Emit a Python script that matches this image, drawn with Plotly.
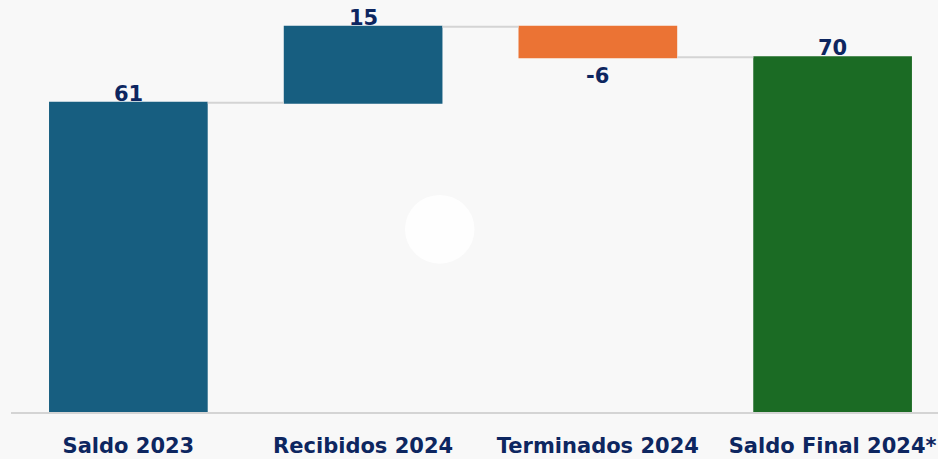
import plotly.graph_objects as go

# Data
categories = ["Saldo 2023", "Recibidos 2024", "Terminados 2024", "Saldo Final 2024*"]
values = [61, 15, -6, 70]
measures = ["relative", "relative", "relative", "total"]
labels = ["61", "15", "-6", "70"]

navy = "#0d2660"
font_family = "DejaVu Sans"

fig = go.Figure(
    go.Waterfall(
        x=categories,
        y=values,
        measure=measures,
        width=0.676,
        increasing=dict(marker=dict(color="#175e80")),
        decreasing=dict(marker=dict(color="#eb7334")),
        totals=dict(marker=dict(color="#1b6b24")),
        connector=dict(line=dict(color="#d4d4d4", width=2)),
        hoverinfo="skip",
    )
)

# value labels: above rising bars, below falling bars
running = 0
for cat, val, meas, lab in zip(categories, values, measures, labels):
    if meas == "total":
        top = running
        neg = False
    else:
        running += val
        top = running
        neg = val < 0
    fig.add_annotation(
        x=cat, y=top, text=lab, showarrow=False,
        yanchor="top" if neg else "bottom",
        yshift=-5,
        font=dict(family=font_family, size=21, color=navy, weight="bold"),
    )

# faint watermark circle in the background
fig.add_shape(
    type="circle", xref="paper", yref="paper",
    x0=0.425, x1=0.5, y0=0.36, y1=0.527,
    fillcolor="white", opacity=0.85, line=dict(width=0), layer="below",
)

fig.update_layout(
    width=938,
    height=459,
    margin=dict(l=11, r=0, t=0, b=47),
    paper_bgcolor="#f8f8f8",
    plot_bgcolor="#f8f8f8",
    showlegend=False,
    xaxis=dict(
        range=[-0.5, 3.449],
        showgrid=False,
        showline=True,
        linecolor="#d4d4d4",
        linewidth=2,
        tickfont=dict(family=font_family, size=21, color=navy, weight="bold"),
        ticklabelstandoff=14,
    ),
    yaxis=dict(
        range=[0, 81.3],
        visible=False,
    ),
)

fig.write_html(
    "out.html",
    config={"displayModeBar": False},
    post_script="document.body.style.margin='0';",
)
